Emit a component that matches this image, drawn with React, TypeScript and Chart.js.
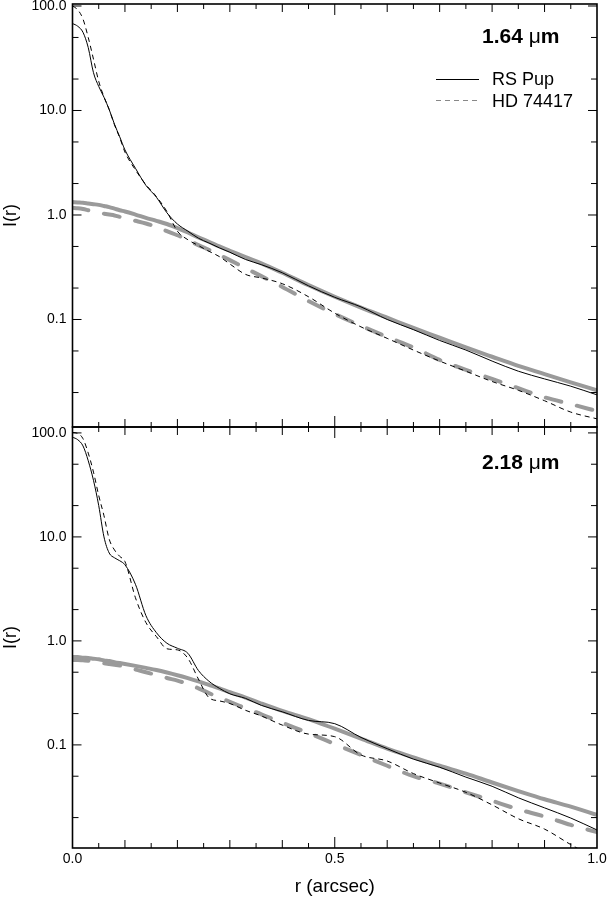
import React, { useEffect, useRef } from "react";
import { Chart, registerables } from "chart.js";
Chart.register(...registerables);

const FONT = "'Liberation Sans', Arial, Helvetica, sans-serif";

// radius grid (arcsec)
const rGrid = [0, 0.01, 0.02, 0.03, 0.04, 0.05, 0.06, 0.07, 0.08, 0.09, 0.1, 0.12, 0.14, 0.16, 0.18, 0.2, 0.22, 0.24, 0.26, 0.28, 0.3, 0.33, 0.36, 0.4, 0.45, 0.5, 0.55, 0.6, 0.65, 0.7, 0.75, 0.8, 0.85, 0.9, 0.95, 1.0];

// 1.64 micron panel
const topRsPup = [68, 64, 56, 40, 23, 17, 13.4, 10.2, 7.4, 5.6, 4.2, 2.8, 1.92, 1.48, 1.05, 0.82, 0.7, 0.6, 0.54, 0.485, 0.44, 0.375, 0.335, 0.28, 0.21, 0.163, 0.132, 0.1, 0.08, 0.063, 0.051, 0.04, 0.032, 0.027, 0.023, 0.019];
const topHd74417 = [100, 92, 75, 50, 31, 19, 13.5, 10.2, 7.3, 5.5, 4.0, 2.7, 1.95, 1.5, 1.08, 0.7, 0.58, 0.51, 0.45, 0.4, 0.34, 0.27, 0.25, 0.22, 0.165, 0.115, 0.085, 0.066, 0.051, 0.04, 0.032, 0.0255, 0.021, 0.0167, 0.013, 0.0112];
const topModelRsPup = [1.33, 1.32, 1.31, 1.29, 1.27, 1.25, 1.22, 1.19, 1.15, 1.11, 1.08, 1.01, 0.94, 0.88, 0.82, 0.75, 0.68, 0.61, 0.555, 0.5, 0.455, 0.395, 0.345, 0.28, 0.213, 0.165, 0.13, 0.104, 0.083, 0.067, 0.054, 0.044, 0.036, 0.03, 0.025, 0.021];
const topModelHd74417 = [1.17, 1.16, 1.14, 1.11, 1.08, 1.05, 1.03, 1.01, 0.99, 0.96, 0.93, 0.88, 0.83, 0.77, 0.7, 0.64, 0.575, 0.515, 0.465, 0.415, 0.37, 0.31, 0.26, 0.205, 0.15, 0.113, 0.087, 0.068, 0.054, 0.041, 0.033, 0.027, 0.022, 0.018, 0.0155, 0.0133];

// 2.18 micron panel
const botRsPup = [91, 86, 75, 54, 35, 20, 10, 7.0, 6.3, 5.9, 5.4, 3.5, 1.75, 1.2, 0.95, 0.85, 0.76, 0.52, 0.41, 0.35, 0.31, 0.28, 0.24, 0.208, 0.172, 0.16, 0.118, 0.092, 0.073, 0.061, 0.049, 0.04, 0.031, 0.0248, 0.0198, 0.0152];
const botHd74417 = [101, 99, 88, 64, 42, 25, 16, 9.5, 7.5, 6.5, 5.8, 2.6, 1.5, 1.1, 0.84, 0.82, 0.68, 0.43, 0.285, 0.265, 0.25, 0.215, 0.19, 0.155, 0.127, 0.12, 0.08, 0.07, 0.053, 0.043, 0.035, 0.0265, 0.0195, 0.0155, 0.011, 0.008];
const botModelRsPup = [0.7, 0.7, 0.69, 0.685, 0.675, 0.665, 0.65, 0.64, 0.625, 0.612, 0.6, 0.575, 0.55, 0.525, 0.497, 0.468, 0.438, 0.408, 0.378, 0.35, 0.322, 0.285, 0.25, 0.212, 0.177, 0.143, 0.115, 0.092, 0.076, 0.063, 0.053, 0.0435, 0.036, 0.03, 0.0255, 0.0212];
const botModelHd74417 = [0.656, 0.655, 0.65, 0.645, 0.635, 0.625, 0.61, 0.6, 0.59, 0.58, 0.565, 0.53, 0.5, 0.47, 0.44, 0.415, 0.385, 0.35, 0.315, 0.285, 0.26, 0.225, 0.197, 0.163, 0.13, 0.102, 0.08, 0.063, 0.05, 0.0425, 0.035, 0.029, 0.024, 0.0205, 0.017, 0.0145];

// axes
const yLabelValues = [0.1, 1, 10, 100];
const yLabelTexts = ["0.1", "1.0", "10.0", "100.0"];
const yMajorMarks = [0.1, 1, 10, 100];
const yMinorMarks = [0.02, 0.05, 0.2, 0.5, 2, 5, 20, 50];
const xLabelValues = [0, 0.5, 1.0];
const xMarks = [0.05, 0.1, 0.15, 0.2, 0.25, 0.3, 0.35, 0.4, 0.45, 0.5, 0.55, 0.6, 0.65, 0.7, 0.75, 0.8, 0.85, 0.9, 0.95];

const pts = (ys: number[]) => rGrid.map((r, i) => ({ x: r, y: ys[i] }));

const framePlugin = {
  id: "frameTicks",
  afterDraw(chart: any, _args: any, opts: any) {
    const { ctx, chartArea: a, scales } = chart;
    const xs = scales.x;
    const ys = scales.y;
    ctx.save();
    ctx.strokeStyle = "#000";
    ctx.lineWidth = 1;
    ctx.beginPath();
    for (const v of xMarks) {
      const px = xs.getPixelForValue(v);
      const m2 = Math.abs(v * 2 - Math.round(v * 2)) < 1e-6;
      const m10 = Math.abs(v * 10 - Math.round(v * 10)) < 1e-6;
      const len = m2 ? 11 : m10 ? 8 : 5;
      ctx.moveTo(px, a.top);
      ctx.lineTo(px, a.top + len);
      ctx.moveTo(px, a.bottom);
      ctx.lineTo(px, a.bottom - len);
    }
    const yMark = (v: number, len: number) => {
      if (v < ys.min || v > ys.max) return;
      const py = ys.getPixelForValue(v);
      ctx.moveTo(a.left, py);
      ctx.lineTo(a.left + len, py);
      ctx.moveTo(a.right, py);
      ctx.lineTo(a.right - len, py);
    };
    yMajorMarks.forEach((v) => yMark(v, 9));
    yMinorMarks.forEach((v) => yMark(v, 6));
    ctx.stroke();
    ctx.lineWidth = 1.6;
    ctx.strokeRect(a.left, a.top, a.right - a.left, a.bottom - a.top);

    // wavelength label
    ctx.fillStyle = "#000";
    ctx.textAlign = "left";
    ctx.textBaseline = "middle";
    let x = 482;
    const y = opts.labelY;
    ctx.font = `bold 21px ${FONT}`;
    const num = opts.wave + " ";
    ctx.fillText(num, x, y);
    x += ctx.measureText(num).width;
    ctx.font = `21px ${FONT}`;
    ctx.fillText("\u03bc", x, y);
    x += ctx.measureText("\u03bc").width;
    ctx.font = `bold 21px ${FONT}`;
    ctx.fillText("m", x, y);

    if (opts.legend) {
      ctx.font = `18px ${FONT}`;
      ctx.lineWidth = 1;
      ctx.strokeStyle = "#000";
      ctx.setLineDash([]);
      ctx.beginPath();
      ctx.moveTo(436, 79.5);
      ctx.lineTo(479, 79.5);
      ctx.stroke();
      ctx.fillText("RS Pup", 492, 80);
      ctx.strokeStyle = "#888";
      ctx.setLineDash([5, 4]);
      ctx.beginPath();
      ctx.moveTo(436, 100.5);
      ctx.lineTo(479, 100.5);
      ctx.stroke();
      ctx.setLineDash([]);
      ctx.fillText("HD 74417", 492, 102);
    }
    ctx.restore();
  },
};

function makeDatasets(rs: number[], hd: number[], mrs: number[], mhd: number[]) {
  const common = { pointRadius: 0, fill: false, cubicInterpolationMode: "monotone" as const };
  return [
    { label: "RS Pup", data: pts(rs), borderColor: "#000", borderWidth: 1, ...common },
    { label: "HD 74417", data: pts(hd), borderColor: "#000", borderWidth: 1, borderDash: [5, 4], ...common },
    { label: "RS Pup model", data: pts(mrs), borderColor: "#9a9a9a", borderWidth: 4, ...common },
    { label: "HD 74417 model", data: pts(mhd), borderColor: "#9a9a9a", borderWidth: 4, borderDash: [16, 16], borderCapStyle: "round" as const, ...common },
  ];
}

function yScale(min: number, max: number) {
  return {
    type: "logarithmic" as const,
    min,
    max,
    afterBuildTicks: (s: any) => {
      s.ticks = yLabelValues.map((v) => ({ value: v }));
    },
    afterFit: (s: any) => {
      s.width = 72.5;
      s.paddingTop = 0;
      s.paddingBottom = 0;
    },
    grid: { display: false, drawTicks: false },
    border: { display: false },
    ticks: {
      autoSkip: false,
      padding: 6,
      color: "#000",
      font: { family: FONT, size: 14 },
      callback: (v: any) => {
        const i = yLabelValues.findIndex((t) => Math.abs(t - Number(v)) / t < 1e-6);
        return i >= 0 ? yLabelTexts[i] : "";
      },
    },
    title: {
      display: true,
      text: "I(r)",
      color: "#000",
      font: { family: FONT, size: 18 },
      padding: { top: 0, bottom: 0 },
    },
  };
}

export default function App() {
  const topRef = useRef<HTMLCanvasElement>(null);
  const botRef = useRef<HTMLCanvasElement>(null);

  useEffect(() => {
    const top = new Chart(topRef.current!, {
      type: "line",
      data: { datasets: makeDatasets(topRsPup, topHd74417, topModelRsPup, topModelHd74417) as any },
      options: {
        animation: false,
        responsive: false,
        devicePixelRatio: 1,
        layout: { padding: { top: 4, bottom: 3, left: 0, right: 11 } },
        plugins: {
          legend: { display: false },
          tooltip: { enabled: false },
          frameTicks: { wave: "1.64", labelY: 37, legend: true },
        } as any,
        scales: {
          x: { type: "linear", min: 0, max: 1, display: false },
          y: yScale(0.00936, 104.5) as any,
        },
      },
      plugins: [framePlugin],
    });

    const bot = new Chart(botRef.current!, {
      type: "line",
      data: { datasets: makeDatasets(botRsPup, botHd74417, botModelRsPup, botModelHd74417) as any },
      options: {
        animation: false,
        responsive: false,
        devicePixelRatio: 1,
        layout: { padding: { top: 7, bottom: 0, left: 0, right: 11 } },
        plugins: {
          legend: { display: false },
          tooltip: { enabled: false },
          frameTicks: { wave: "2.18", labelY: 43, legend: false },
        } as any,
        scales: {
          x: {
            type: "linear",
            min: 0,
            max: 1,
            afterBuildTicks: (s: any) => {
              s.ticks = xLabelValues.map((v) => ({ value: v }));
            },
            afterFit: (s: any) => {
              s.height = 56;
              s.paddingLeft = 0;
              s.paddingRight = 0;
            },
            grid: { display: false, drawTicks: false },
            border: { display: false },
            ticks: {
              autoSkip: false,
              maxRotation: 0,
              padding: 3,
              color: "#000",
              font: { family: FONT, size: 14 },
              callback: (v: any) => Number(v).toFixed(1),
            },
            title: {
              display: true,
              text: "r (arcsec)",
              color: "#000",
              font: { family: FONT, size: 19 },
              padding: { top: 0, bottom: 6 },
            },
          },
          y: yScale(0.0102, 114) as any,
        },
      },
      plugins: [framePlugin],
    });

    return () => {
      top.destroy();
      bot.destroy();
    };
  }, []);

  return (
    <div style={{ position: "absolute", left: 0, top: 0, width: 608, height: 904, background: "#fff" }}>
      <canvas ref={topRef} width={608} height={430} style={{ position: "absolute", left: 0, top: 0, width: 608, height: 430 }} />
      <canvas ref={botRef} width={608} height={484} style={{ position: "absolute", left: 0, top: 420, width: 608, height: 484 }} />
    </div>
  );
}
